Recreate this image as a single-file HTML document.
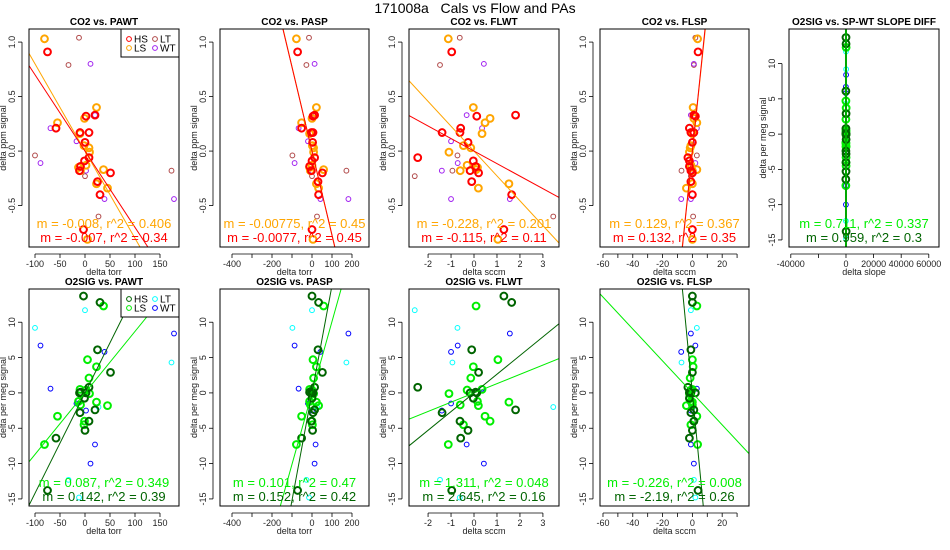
<!DOCTYPE html>
<html><head><meta charset="utf-8"><style>
html,body{margin:0;padding:0;background:#fff;width:950px;height:550px;overflow:hidden;}
svg{display:block;font-family:"Liberation Sans",sans-serif;overflow:hidden;}
</style></head><body>
<svg id="c" width="950" height="550" viewBox="0 0 950 550">
<rect width="950" height="550" fill="#fff"/>
<text x="475" y="13" font-size="14" text-anchor="middle" xml:space="preserve" style="white-space:pre">171008a   Cals vs Flow and PAs</text>
</svg>
<script>
// ---- data ----
const hsPAWT=[-75,-58,-10,8,2,20,0,8,-1,-9,-11,51,25,30,-3];
const hsCO2=[0.91,0.21,0.17,0.17,0.32,0.33,0.08,-0.06,-0.09,-0.14,-0.18,-0.20,-0.28,-0.40,-0.72];
const hsO2=[-13.8,-6.4,-2.8,-4.0,0,-2.4,-5.3,0.8,-0.75,0.1,0,2.9,6.1,12.8,13.7];
const hsPASP=[-72,-52,5,-3,5,13,3,13,0,-12,-3,52,30,33,0];
const hsFLWT=[-0.97,-0.58,-1.39,-0.61,0.12,1.81,-0.26,-2.45,-0.03,0.07,-0.17,0.2,-0.1,1.64,1.3];
const hsFLSP=[3.8,-2,-1,1,2,1,0,-3,-2,-2,-1,0,-1,0,0];
const hsSLOPE=[100,-120,50,0,80,-60,20,-40,90,-100,30,60,-80,40,0];
const lsPAWT=[-81,-55,23,-1,-10,-2,8,9,-13,-9,37,23,45,5,2];
const lsCO2=[1.03,0.26,0.40,0.30,0.16,0.05,0.03,-0.01,-0.15,-0.18,-0.17,-0.30,-0.34,-0.81,-0.13];
const lsO2=[-7.3,-3.3,3.7,-4.0,0.5,-4.5,2.1,-0.1,-1.2,-1.7,12.3,-1.3,-1.8,4.7,0.4];
const lsPASP=[-78,-52,22,0,-12,2,8,8,-12,-8,58,22,33,5,0];
const lsFLWT=[-1.12,0.48,-0.03,0.7,0.35,-0.46,-0.14,-1.09,0.15,-0.6,0.09,1.52,0.19,1.04,-0.3];
const lsFLSP=[3.5,3,0.5,1,0,-1,-1.5,-2,-1,0,3,0,-4,0,-1];
const lsSLOPE=[-90,60,110,-30,0,70,-50,20,-110,40,90,-20,30,-70,10];
const ltPAWT=[-12,-33,-100,173,0,27];
const ltCO2=[1.04,0.79,-0.04,-0.18,-0.23,-0.60];
const ltO2=[-14.8,-12.3,9.2,4.3,11.7,-2.0];
const ltPASP=[-15,-28,-98,172,0,25];
const ltFLWT=[-0.62,-1.48,-0.72,-0.94,-2.58,3.45];
const ltFLSP=[2,1,3,-7.3,-1,0.5];
const ltSLOPE=[50,-80,120,-40,0,90];
const wtPAWT=[11,-69,-17,-89,2,39,178,20];
const wtCO2=[0.80,0.21,0.09,-0.11,-0.18,-0.44,-0.44,0.33];
const wtO2=[-10,0.6,-1.5,6.7,-2.5,5.8,8.4,-7.3];
const wtPASP=[13,-67,-20,-87,0,42,182,18];
const wtFLWT=[0.43,0.35,-1.0,-0.71,-1.4,-1.0,1.56,-0.32];
const wtFLSP=[1,3,0,2,-1,-7.5,-1,-1];
const wtSLOPE=[-60,40,100,-100,20,-30,70,0];
const panelTitles=["CO2 vs. PAWT","CO2 vs. PASP","CO2 vs. FLWT","CO2 vs. FLSP","O2SIG vs. SP-WT SLOPE DIFF","O2SIG vs. PAWT","O2SIG vs. PASP","O2SIG vs. FLWT","O2SIG vs. FLSP"];
const lsSlopes=[-0.008,-0.00775,-0.228,0.129,0.711,0.087,0.101,1.311,-0.226];
const hsSlopes=[-0.007,-0.0077,-0.115,0.132,0.959,0.142,0.152,2.645,-2.19];
const lsStats=["m = -0.008, r^2 = 0.406","m = -0.00775, r^2 = 0.45","m = -0.228, r^2 = 0.201","m = 0.129, r^2 = 0.367","m = 0.711, r^2 = 0.337","m = 0.087, r^2 = 0.349","m = 0.101, r^2 = 0.47","m = 1.311, r^2 = 0.048","m = -0.226, r^2 = 0.008"];
const hsStats=["m = -0.007, r^2 = 0.34","m = -0.0077, r^2 = 0.45","m = -0.115, r^2 = 0.11","m = 0.132, r^2 = 0.35","m = 0.959, r^2 = 0.3","m = 0.142, r^2 = 0.39","m = 0.152, r^2 = 0.42","m = 2.645, r^2 = 0.16","m = -2.19, r^2 = 0.26"];
const ticksTorr=[-100,-50,0,50,100,150];
const ticksPasp=[-400,-300,-200,-100,0,100,200];
const labelsPasp=["-400","","-200","","0","100","200"];
const ticksFlwt=[-2,-1,0,1,2,3];
const ticksFlsp=[-60,-50,-40,-30,-20,-10,0,10,20,30];
const labelsFlsp=["-60","","-40","","-20","","0","","20",""];
const ticksSlope=[-40000,-20000,0,20000,40000,60000];
const labelsSlope=["-40000","","0","20000","40000","60000"];
const ticksCO2=[1.0,0.5,0.0,-0.5];
const ticksO2=[10,5,0,-5,-10,-15];

const svg=document.getElementById('c');
const NS="http://www.w3.org/2000/svg";
function mk(tag,attrs,parent){const e=document.createElementNS(NS,tag);for(const k in attrs)e.setAttribute(k,attrs[k]);(parent||svg).appendChild(e);return e;}

const xCfg={
 pawt:{d:[-112,188],ticks:ticksTorr,labels:null,lab:"delta torr",key:"PAWT"},
 pasp:{d:[-460,285],ticks:ticksPasp,labels:labelsPasp,lab:"delta torr",key:"PASP"},
 flwt:{d:[-2.83,3.7],ticks:ticksFlwt,labels:null,lab:"delta sccm",key:"FLWT"},
 flsp:{d:[-62,38],ticks:ticksFlsp,labels:labelsFlsp,lab:"delta sccm",key:"FLSP"},
 slope:{d:[-41300,67400],ticks:ticksSlope,labels:labelsSlope,lab:"delta slope",key:"SLOPE"}
};
const groups={
 hs:{PAWT:hsPAWT,PASP:hsPASP,FLWT:hsFLWT,FLSP:hsFLSP,SLOPE:hsSLOPE,CO2:hsCO2,O2:hsO2,thick:true},
 ls:{PAWT:lsPAWT,PASP:lsPASP,FLWT:lsFLWT,FLSP:lsFLSP,SLOPE:lsSLOPE,CO2:lsCO2,O2:lsO2,thick:true},
 lt:{PAWT:ltPAWT,PASP:ltPASP,FLWT:ltFLWT,FLSP:ltFLSP,SLOPE:ltSLOPE,CO2:ltCO2,O2:ltO2,thick:false},
 wt:{PAWT:wtPAWT,PASP:wtPASP,FLWT:wtFLWT,FLSP:wtFLSP,SLOPE:wtSLOPE,CO2:wtCO2,O2:wtO2,thick:false}
};
const co2Cols={hs:"#ff0000",ls:"#ffa500",lt:"#b04848",wt:"#a020f0"};
const o2Cols={hs:"#006400",ls:"#00ee00",lt:"#00ffff",wt:"#0000ff"};
const cols=[[29,179],[220,369],[409,559],[600,749],[789,939]];
const panels=[
 {c:0,r:0,x:"pawt",y:"CO2",legend:true},{c:1,r:0,x:"pasp",y:"CO2"},{c:2,r:0,x:"flwt",y:"CO2"},{c:3,r:0,x:"flsp",y:"CO2"},
 {c:4,r:0,x:"slope",y:"O2",vert:true},
 {c:0,r:1,x:"pawt",y:"O2",legend:true},{c:1,r:1,x:"pasp",y:"O2"},{c:2,r:1,x:"flwt",y:"O2"},{c:3,r:1,x:"flsp",y:"O2"}
];
panels.forEach((p,i)=>{
 const [L,R]=cols[p.c];
 const T=p.r===0?29:289, B=p.r===0?247:506;
 const yd=p.y==="CO2"?[-0.88,1.12]:(p.c===4?[-16.0,14.9]:[-16.0,14.7]);
 const xc=xCfg[p.x];
 const sx=v=>L+(v-xc.d[0])/(xc.d[1]-xc.d[0])*(R-L);
 const sy=v=>B-(v-yd[0])/(yd[1]-yd[0])*(B-T);
 const colors=p.y==="CO2"?co2Cols:o2Cols;
 const g=mk('g',{});
 
 
 const clipId='cl'+i;
 const cp=mk('clipPath',{id:clipId},g);mk('rect',{x:L,y:T,width:R-L,height:B-T},cp);
 const t=mk('text',{x:(L+R)/2,y:T-4,'font-size':10,'font-weight':'bold','text-anchor':'middle'},g);t.textContent=panelTitles[i];
 
 
 const xt=xc.ticks, xl=xc.labels||xt.map(String);
 mk('line',{x1:sx(xt[0]),x2:sx(xt[xt.length-1]),y1:B+7,y2:B+7,stroke:'#000','stroke-width':0.8},g);
 xt.forEach((v,k)=>{mk('line',{x1:sx(v),x2:sx(v),y1:B+7,y2:B+11,stroke:'#000','stroke-width':0.8},g);
  if(xl[k]!==""){const tt=mk('text',{x:sx(v),y:B+20,'font-size':9,'text-anchor':'middle',fill:'#222'},g);tt.textContent=xl[k];
  
  }});
 const xa=mk('text',{x:(L+R)/2,y:B+28,'font-size':9,'text-anchor':'middle',fill:'#222'},g);xa.textContent=xc.lab;
 
 
 const yt=p.y==="CO2"?ticksCO2:ticksO2;
 mk('line',{x1:L-7,x2:L-7,y1:sy(yt[0]),y2:sy(yt[yt.length-1]),stroke:'#000','stroke-width':0.8},g);
 yt.forEach(v=>{mk('line',{x1:L-11,x2:L-7,y1:sy(v),y2:sy(v),stroke:'#000','stroke-width':0.8},g);
  const tt=mk('text',{x:L-14,y:sy(v),'font-size':9,'text-anchor':'middle',fill:'#222',transform:`rotate(-90 ${L-14} ${sy(v)})`},g);
  tt.textContent=p.y==="CO2"?v.toFixed(1):String(v);
  
  });
 const ya=mk('text',{x:L-23,y:(T+B)/2,'font-size':9,'text-anchor':'middle',fill:'#222',transform:`rotate(-90 ${L-23} ${(T+B)/2})`},g);
 ya.textContent=p.y==="CO2"?"delta ppm signal":"delta per meg signal";
 
 
 const pg=mk('g',{'clip-path':`url(#${clipId})`},g);
 ['lt','wt','ls','hs'].forEach(gk=>{
  const G=groups[gk];const xs=G[xc.key], ys=G[p.y];
  xs.forEach((xv,k)=>{
   const c=mk('circle',{cx:sx(xv),cy:sy(ys[k]),r:G.thick?3.4:2.4,fill:'none',stroke:colors[gk],'stroke-width':G.thick?2:1},pg);
   
   
  });
 });
 [['ls',lsSlopes[i]],['hs',hsSlopes[i]]].forEach(([gk,m])=>{
  let ln;
  if(p.vert){ln=mk('line',{x1:sx(0),x2:sx(0),y1:T,y2:B,stroke:colors[gk],'stroke-width':gk==='ls'?2:1},pg);}
  else ln=mk('line',{x1:sx(xc.d[0]),y1:sy(m*xc.d[0]),x2:sx(xc.d[1]),y2:sy(m*xc.d[1]),stroke:colors[gk],'stroke-width':1},pg);
  
  
 });
 const s1=mk('text',{x:(L+R)/2,y:B-19,'font-size':13,'text-anchor':'middle',fill:colors.ls},g);s1.textContent=lsStats[i];
 
 
 const s2=mk('text',{x:(L+R)/2,y:B-5,'font-size':13,'text-anchor':'middle',fill:colors.hs},g);s2.textContent=hsStats[i];
 
 
 mk('rect',{x:L,y:T,width:R-L,height:B-T,fill:'none',stroke:'#000','stroke-width':1},g);
 if(p.legend){
  const lg=mk('g',{},g);
  
  
  mk('rect',{x:121,y:T,width:58,height:28,fill:'#fff',stroke:'#000','stroke-width':1},lg);
  [['hs','HS',129,T+10],['lt','LT',155,T+10],['ls','LS',129,T+19],['wt','WT',155,T+19]].forEach(([gk,lab,x,y])=>{
   const e=mk('g',{},lg);
   
   
   mk('circle',{cx:x,cy:y,r:2.4,fill:'none',stroke:colors[gk],'stroke-width':1},e);
   const tt=mk('text',{x:x+5,y:y+3.5,'font-size':10},e);tt.textContent=lab;
  });
 }
});
</script>
</body></html>
